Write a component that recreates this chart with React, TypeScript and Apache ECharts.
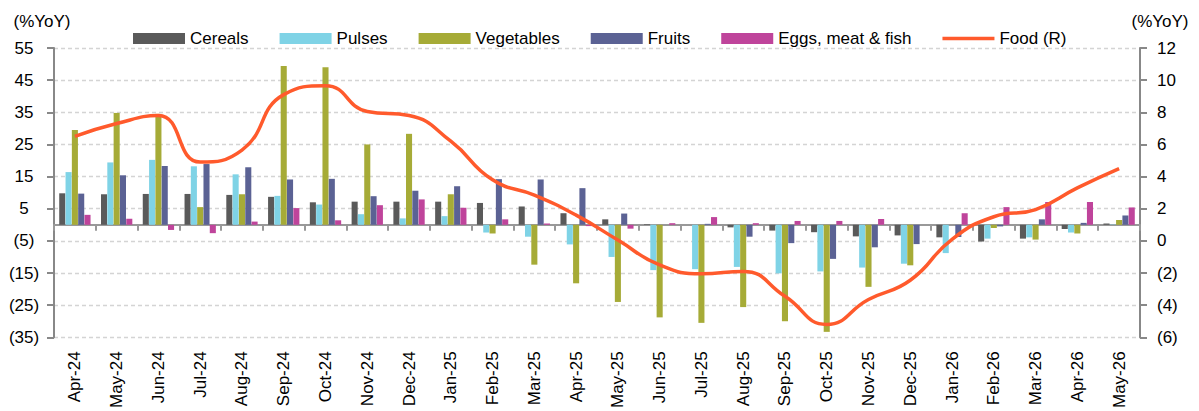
import React, { useEffect, useRef } from "react";
import * as echarts from "echarts";

const months = [
  "Apr-24", "May-24", "Jun-24", "Jul-24", "Aug-24", "Sep-24", "Oct-24", "Nov-24", "Dec-24",
  "Jan-25", "Feb-25", "Mar-25", "Apr-25", "May-25", "Jun-25", "Jul-25", "Aug-25", "Sep-25",
  "Oct-25", "Nov-25", "Dec-25", "Jan-26", "Feb-26", "Mar-26", "Apr-26", "May-26",
];

const cereals = [9.8, 9.5, 9.6, 9.6, 9.3, 8.7, 7.0, 7.2, 7.2, 7.2, 6.8, 5.7, 3.6, 1.7, 0.2, 0, -0.8, -1.8, -2.3, -3.6, -3.3, -3.9, -5.2, -4.3, -1.3, 0.4];
const pulses = [16.4, 19.4, 20.2, 18.2, 15.7, 9.0, 6.3, 3.3, 2.0, 2.7, -2.4, -3.7, -6.1, -10.0, -14.1, -13.8, -13.1, -15.1, -14.5, -13.3, -12.1, -8.8, -4.3, -3.9, -2.4, 0.1];
const vegetables = [29.5, 34.8, 34.5, 5.5, 9.5, 49.4, 49.0, 25.0, 28.3, 9.5, -2.7, -12.4, -18.2, -24.0, -28.8, -30.5, -25.6, -30.0, -33.3, -19.3, -12.6, 0, -1.0, -4.6, -2.7, 1.5];
const fruits = [9.7, 15.4, 18.3, 18.9, 17.9, 14.1, 14.3, 8.9, 10.6, 12.0, 14.2, 14.1, 11.4, 3.5, 0, 0.3, -3.7, -5.7, -10.6, -7.0, -6.0, -3.8, -0.5, 1.7, 0.6, 2.9];
const eggsMeatFish = [3.1, 1.9, -1.6, -2.6, 1.0, 5.2, 1.4, 6.1, 7.9, 5.3, 1.7, 0.4, -0.4, -1.2, 0.5, 2.4, 0.5, 1.2, 1.2, 1.8, 0, 3.6, 5.5, 7.1, 7.1, 5.4];
const food = [6.5, 7.3, 7.8, 4.9, 5.65, 9.1, 9.65, 8.05, 7.8, 6.2, 3.8, 2.85, 1.6, 0.05, -1.5, -2.05, -1.9, -3.45, -5.2, -3.65, -2.45, 0.1, 1.5, 1.95, 3.3, 4.5];

const FONT = "'Liberation Sans', Arial, sans-serif";
const fmt = (v: number) => (v < 0 ? `(${-v})` : `${v}`);

export default function App() {
  const ref = useRef<HTMLDivElement>(null);

  useEffect(() => {
    if (!ref.current) return;
    const chart = echarts.init(ref.current, null, { renderer: "svg" });

    const barSeries = (name: string, data: number[], color: string) => ({
      name,
      type: "bar",
      data,
      xAxisIndex: 0,
      yAxisIndex: 0,
      barGap: "4%",
      barCategoryGap: "25%",
      itemStyle: { color },
    });

    chart.setOption({
      animation: false,
      textStyle: { fontFamily: FONT },
      grid: { left: 54, right: 59, top: 48, bottom: 73, containLabel: false },
      legend: {
        left: 128,
        top: 25,
        itemWidth: 52,
        itemHeight: 11,
        itemGap: 31,
        textStyle: { fontSize: 17, color: "#000", fontFamily: FONT },
        data: [
          { name: "Cereals", icon: "rect" },
          { name: "Pulses", icon: "rect" },
          { name: "Vegetables", icon: "rect" },
          { name: "Fruits", icon: "rect" },
          { name: "Eggs, meat & fish", icon: "rect" },
          { name: "Food (R)", icon: "path://M0,0 M52,11 M0,3.8 L52,3.8 L52,7.2 L0,7.2 Z" },
        ],
      },
      graphic: [
        {
          type: "text",
          style: { text: "(%YoY)", x: 42, y: 21, align: "center", verticalAlign: "middle", fontSize: 17, fill: "#000", fontFamily: FONT },
        },
        {
          type: "text",
          style: { text: "(%YoY)", x: 1160, y: 21, align: "center", verticalAlign: "middle", fontSize: 17, fill: "#000", fontFamily: FONT },
        },
      ],
      xAxis: [
        {
          type: "category",
          data: months,
          position: "bottom",
          axisLine: { show: false, onZero: false },
          axisTick: { show: false },
          axisLabel: { rotate: 90, interval: 0, fontSize: 17, color: "#000", margin: 14, fontFamily: FONT },
          splitLine: { show: false },
        },
        {
          type: "category",
          data: months,
          position: "bottom",
          axisLine: { show: true, onZero: true, onZeroAxisIndex: 0, lineStyle: { color: "#999", width: 2 } },
          axisTick: { show: true, length: 6, interval: 0, lineStyle: { color: "#999", width: 2 } },
          axisLabel: { show: false },
          splitLine: { show: false },
        },
      ],
      yAxis: [
        {
          type: "value",
          position: "left",
          min: -35,
          max: 55,
          interval: 10,
          axisLine: { show: true, lineStyle: { color: "#888", width: 2 } },
          axisTick: { show: true, length: 7, lineStyle: { color: "#888", width: 2 } },
          axisLabel: { formatter: fmt, fontSize: 17, color: "#000", align: "center", margin: 30, fontFamily: FONT },
          splitLine: { show: true, lineStyle: { color: "#d4d4d4", type: [4, 3], width: 1.3 } },
        },
        {
          type: "value",
          position: "right",
          min: -6,
          max: 12,
          interval: 2,
          axisLine: { show: true, lineStyle: { color: "#888", width: 2 } },
          axisTick: { show: true, length: 7, lineStyle: { color: "#888", width: 2 } },
          axisLabel: { formatter: fmt, fontSize: 17, color: "#000", align: "left", margin: 17, fontFamily: FONT },
          splitLine: { show: false },
        },
      ],
      series: [
        barSeries("Cereals", cereals, "#5a5a5a"),
        barSeries("Pulses", pulses, "#7fd3e6"),
        barSeries("Vegetables", vegetables, "#a6ab37"),
        barSeries("Fruits", fruits, "#5b6294"),
        barSeries("Eggs, meat & fish", eggsMeatFish, "#bf449b"),
        {
          name: "Food (R)",
          type: "line",
          data: food,
          xAxisIndex: 0,
          yAxisIndex: 1,
          smooth: 0.5,
          symbol: "none",
          lineStyle: { color: "#ff5a2c", width: 3.5 },
          itemStyle: { color: "#ff5a2c" },
          z: 5,
        },
      ],
    });

    return () => chart.dispose();
  }, []);

  return (
    <div
      ref={ref}
      style={{ position: "fixed", left: 0, top: 0, width: 1199, height: 411, background: "#fff" }}
    />
  );
}
